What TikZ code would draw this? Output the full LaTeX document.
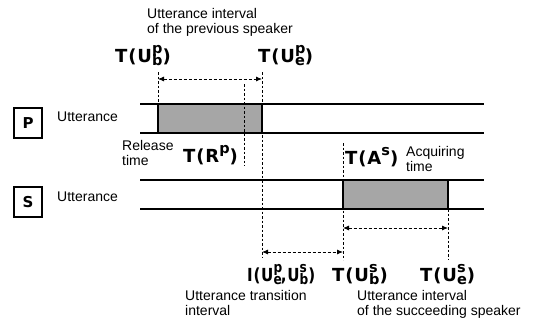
\documentclass[tikz,border=0pt]{standalone}
\usepackage{fontspec}
\usepackage{graphicx}
\setmainfont{Liberation Sans}
\newfontfamily\boldlab[LetterSpace=5]{DejaVu Sans}
\usetikzlibrary{arrows.meta}
\definecolor{boxgray}{RGB}{166,166,166}
\newcommand\supsub[2]{{\fontsize{14.5}{14.5}\selectfont\makebox[0pt][l]{\raisebox{8.5pt}{#1}}\raisebox{-3.5pt}{#2}}}
\newcommand\supo[1]{{\fontsize{14.5}{14.5}\selectfont\raisebox{8.5pt}{#1}}}
\tikzset{
  plain/.style={font=\fontsize{14}{15}\selectfont, inner sep=0pt, align=left},
  blabel/.style={font=\boldlab\bfseries\fontsize{18}{18}\selectfont, inner sep=0pt, anchor=west},
  tline/.style={line width=1.3pt},
  ubox/.style={draw, line width=1.8pt, fill=boxgray},
  tick/.style={line width=0.7pt, dash pattern=on 2.5pt off 2pt},
  darrow/.style={line width=0.8pt, dash pattern=on 3pt off 2pt, {Latex[length=6pt,width=5pt]}-{Latex[length=6pt,width=5pt]}},
  lbox/.style={draw, line width=1.5pt, minimum width=28pt, minimum height=30pt, inner sep=0pt, font=\boldlab\bfseries\fontsize{15}{15}\selectfont}
}
\begin{document}
\begin{tikzpicture}[x=1pt,y=-1pt]
\useasboundingbox (0,0) rectangle (534,324);
% timelines
\coordinate (pl1) at (140,104); \coordinate (pr1) at (484,104);
\coordinate (pl2) at (140,133); \coordinate (pr2) at (484,133);
\coordinate (sl1) at (140,180); \coordinate (sr1) at (484,180);
\coordinate (sl2) at (140,209); \coordinate (sr2) at (484,209);
\draw[tline] (pl1) -- (pr1);
\draw[tline] (pl2) -- (pr2);
\draw[tline] (sl1) -- (sr1);
\draw[tline] (sl2) -- (sr2);
% utterance boxes
\draw[ubox] (158,104) rectangle (262,133);
\draw[ubox] (343,180) rectangle (448,209);
% tick lines
\coordinate (ub1) at (158,72); \coordinate (ub2) at (158,104);
\coordinate (ue1) at (262,72); \coordinate (ue2) at (262,258);
\coordinate (r1) at (244,84); \coordinate (r2) at (244,166);
\coordinate (a1) at (343,143); \coordinate (a2) at (343,260);
\coordinate (se1) at (448,209); \coordinate (se2) at (448,260);
\draw[tick] (ub1) -- (ub2);
\draw[tick] (ue1) -- (ue2);
\draw[tick] (r1) -- (r2);
\draw[tick] (a1) -- (a2);
\draw[tick] (se1) -- (se2);
% interval arrows
\coordinate (pa1) at (158,79); \coordinate (pa2) at (262,79);
\coordinate (ia1) at (262,252); \coordinate (ia2) at (343,252);
\coordinate (sa1) at (343,228); \coordinate (sa2) at (448,228);
\draw[darrow] (pa1) -- (pa2);
\draw[darrow] (ia1) -- (ia2);
\draw[darrow] (sa1) -- (sa2);
% left labels
\node[lbox] (P) at (28,123) {P};
\node[lbox] (S) at (28,202) {S};
\node[plain, anchor=north west] (pu) at (57,112) {Utterance};
\node[plain, anchor=north west] (su) at (57,192) {Utterance};
% text labels
\node[plain, anchor=north west] (uip) at (147,8) {Utterance interval\\of the previous speaker};
\node[plain, anchor=north west] (rt) at (122,140) {Release\\time};
\node[plain, anchor=north west] (at) at (406,146) {Acquiring\\time};
\node[plain, anchor=north west] (utr) at (185,290) {Utterance transition\\interval};
\node[plain, anchor=north west] (uis) at (357,290) {Utterance interval\\of the succeeding speaker};
% bold labels
\node[blabel] (tubp) at (115,56) {T(U\supsub{p}{b})};
\node[blabel] (tuep) at (258,56) {T(U\supsub{p}{e})};
\node[blabel] (trp) at (183,155) {T(R\supo{p})};
\node[blabel] (tas) at (345,157) {T(A\supo{s})};
\node[blabel] (iu) at (247,275) {\scalebox{0.84}[1]{I(U\supsub{p}{e}\kern-1pt,U\supsub{s}{b})}};
\node[blabel] (tubs) at (332,275) {T(U\supsub{s}{b})};
\node[blabel] (tues) at (420,275) {T(U\supsub{s}{e})};
\end{tikzpicture}
\end{document}
